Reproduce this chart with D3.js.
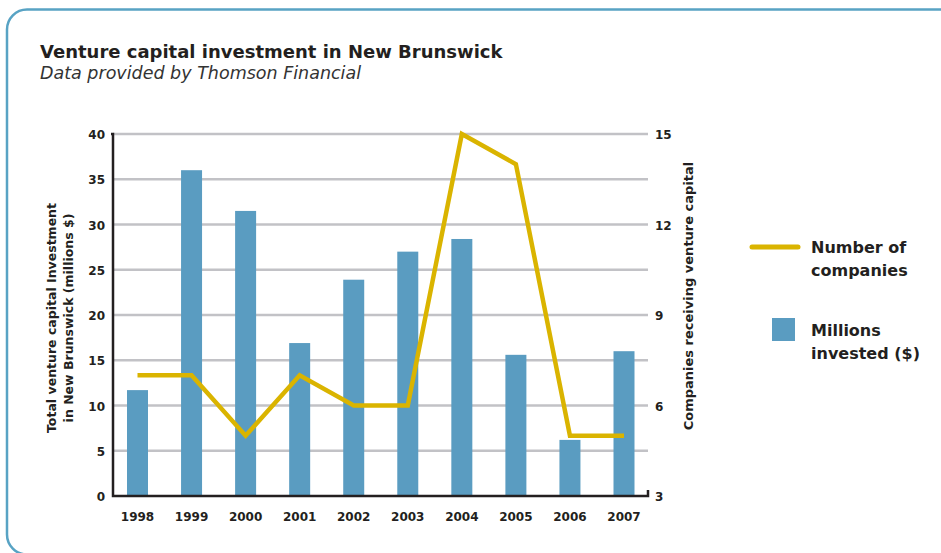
<!DOCTYPE html>
<html>
<head>
<meta charset="utf-8">
<script src="https://cdn.jsdelivr.net/npm/d3@7"></script>
<style>
  body { margin: 0; background: #fff; }
  svg text { font-family: "DejaVu Sans", sans-serif; fill: #231f20; }
  .tick-label { font-size: 12px; font-weight: bold; }
  .axis-title { font-size: 12.5px; font-weight: bold; }
  .legend-text { font-size: 16px; font-weight: bold; }
</style>
</head>
<body>
<div id="chart"></div>
<script>
// values
const years = ["1998", "1999", "2000", "2001", "2002", "2003", "2004", "2005", "2006", "2007"];
const millions = [11.7, 36.0, 31.5, 16.9, 23.9, 27.0, 28.4, 15.6, 6.2, 16.0];
const companies = [7, 7, 5, 7, 6, 6, 15, 14, 5, 5];
const leftTicks = [0, 5, 10, 15, 20, 25, 30, 35, 40];
const rightTicks = [3, 6, 9, 12, 15];

const width = 941, height = 553;
const plot = { left: 113, right: 648, top: 134, bottom: 496 };

const svg = d3.select("#chart").append("svg")
    .attr("width", width)
    .attr("height", height);

// rounded frame, runs off the right and bottom edges
svg.append("rect")
    .attr("x", 7).attr("y", 9.5)
    .attr("width", 980).attr("height", 545)
    .attr("rx", 20)
    .style("fill", "none")
    .style("stroke", "#58a3c4")
    .style("stroke-width", 2.5);

// title
svg.append("text")
    .attr("x", 40).attr("y", 58)
    .style("font-size", "18px").style("font-weight", "bold")
    .text("Venture capital investment in New Brunswick");
svg.append("text")
    .attr("x", 40).attr("y", 79)
    .style("font-size", "17.5px").style("font-style", "italic")
    .style("fill", "#333")
    .text("Data provided by Thomson Financial");

// scales
const x = d3.scalePoint().domain(years).range([137.5, 624]);
const yLeft = d3.scaleLinear().domain([0, 40]).range([plot.bottom, plot.top]);
const yRight = d3.scaleLinear().domain([3, 15]).range([plot.bottom, plot.top]);
const barWidth = 21;

// gridlines
svg.append("g")
    .selectAll("line")
    .data(leftTicks.filter(d => d > 0))
    .enter().append("line")
        .attr("x1", plot.left).attr("x2", plot.right)
        .attr("y1", d => yLeft(d)).attr("y2", d => yLeft(d))
        .style("stroke", "#c2c2c6")
        .style("stroke-width", 2.5);

// bars
svg.append("g")
    .selectAll("rect")
    .data(millions)
    .enter().append("rect")
        .attr("x", (d, i) => x(years[i]) - barWidth / 2)
        .attr("y", d => yLeft(d))
        .attr("width", barWidth)
        .attr("height", d => yLeft(0) - yLeft(d))
        .style("fill", "#5a9cc1");

// axis frame lines
const axisColor = "#231f20";
svg.append("path")
    .attr("d", "M" + (plot.left - 2) + "," + plot.top + "H" + plot.left + "V" + plot.bottom +
        "H" + plot.right + "V" + (plot.bottom - 6))
    .style("fill", "none")
    .style("stroke", axisColor)
    .style("stroke-width", 2.5);

// left tick labels
svg.append("g")
    .selectAll("text")
    .data(leftTicks)
    .enter().append("text")
        .attr("class", "tick-label")
        .attr("x", plot.left - 8)
        .attr("y", d => yLeft(d) + 5)
        .style("text-anchor", "end")
        .text(d => d);

// right tick labels
svg.append("g")
    .selectAll("text")
    .data(rightTicks)
    .enter().append("text")
        .attr("class", "tick-label")
        .attr("x", plot.right + 7)
        .attr("y", d => yRight(d) + 5)
        .style("text-anchor", "start")
        .text(d => d);

// x labels
svg.append("g")
    .selectAll("text")
    .data(years)
    .enter().append("text")
        .attr("class", "tick-label")
        .attr("x", d => x(d))
        .attr("y", 521)
        .style("text-anchor", "middle")
        .text(d => d);

// line of companies
const line = d3.line()
    .x((d, i) => x(years[i]))
    .y(d => yRight(d));
svg.append("path")
    .datum(companies)
    .attr("d", line)
    .style("fill", "none")
    .style("stroke", "#dab400")
    .style("stroke-width", 4.5)
    .style("stroke-linejoin", "miter");

// left axis title
const leftTitle = svg.append("text")
    .attr("class", "axis-title")
    .attr("transform", "translate(56, 318) rotate(-90)")
    .style("text-anchor", "middle");
leftTitle.append("tspan").attr("x", 0).attr("dy", 0).text("Total venture capital Investment");
leftTitle.append("tspan").attr("x", 0).attr("dy", 17).text("in New Brunswick (millions $)");

// right axis title
svg.append("text")
    .attr("class", "axis-title")
    .style("font-size", "13px")
    .attr("transform", "translate(693, 296) rotate(-90)")
    .style("text-anchor", "middle")
    .text("Companies receiving venture capital");

// legend
svg.append("line")
    .attr("x1", 752).attr("x2", 798)
    .attr("y1", 247).attr("y2", 247)
    .style("stroke", "#dab400")
    .style("stroke-width", 5)
    .style("stroke-linecap", "round");
svg.append("text").attr("class", "legend-text").attr("x", 811).attr("y", 253).text("Number of");
svg.append("text").attr("class", "legend-text").attr("x", 811).attr("y", 276).text("companies");

svg.append("rect")
    .attr("x", 772).attr("y", 318)
    .attr("width", 23).attr("height", 23)
    .style("fill", "#5a9cc1");
svg.append("text").attr("class", "legend-text").attr("x", 811).attr("y", 336).text("Millions");
svg.append("text").attr("class", "legend-text").attr("x", 811).attr("y", 359).text("invested ($)");
</script>
</body>
</html>
